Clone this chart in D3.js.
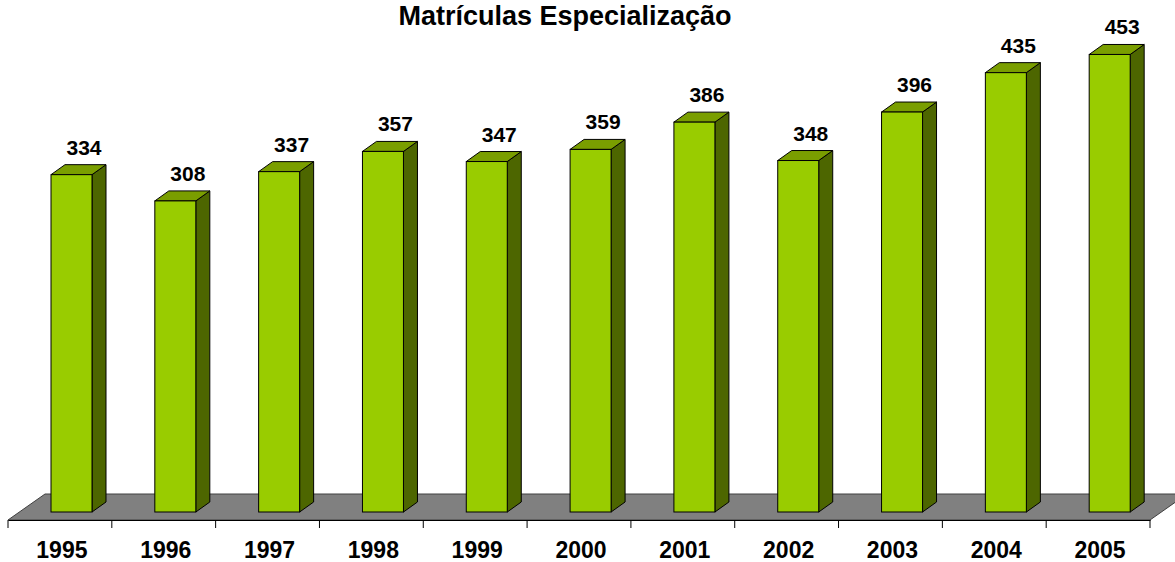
<!DOCTYPE html>
<html>
<head>
<meta charset="utf-8">
<script src="https://cdn.jsdelivr.net/npm/d3@7"></script>
<style>
  body { margin: 0; background: #fff; }
  svg { display: block; font-family: "Liberation Sans", Arial, sans-serif; font-weight: bold; }
</style>
</head>
<body>
<svg id="chart" width="1175" height="562"></svg>
<script>
const title = "Matrículas Especialização";
const years = ["1995", "1996", "1997", "1998", "1999", "2000", "2001", "2002", "2003", "2004", "2005"];
const values = [334, 308, 337, 357, 347, 359, 386, 348, 396, 435, 453];

const svg = d3.select("#chart");

// floor / bar geometry (pseudo 3D)
const floorFront = 520, floorDx = 37, floorDy = -26;
const barBase = 512, barDx = 14, barDy = -10, barOffset = 43, barWidth = 41;

const x = d3.scaleBand().domain(years).range([8, 1150]).padding(0);
const y = d3.scaleLinear().domain([0, 500]).range([barBase, 7]);

// floor
const [x0, x1] = x.range();
svg.append("path")
  .attr("d", `M${x0},${floorFront} L${x1},${floorFront} L${x1 + floorDx},${floorFront + floorDy} L${x0 + floorDx},${floorFront + floorDy} Z`)
  .attr("fill", "#808080")
  .attr("stroke", "#404040")
  .attr("stroke-width", 1);

// axis line + ticks
const axis = svg.append("g").attr("transform", `translate(0,${floorFront})`)
  .call(d3.axisBottom(x).tickSize(0).tickFormat(""));
axis.select(".domain").attr("stroke", "#000");
const tickXs = years.map(d => x(d)).concat([x1]);
svg.selectAll("line.tick")
  .data(tickXs)
  .join("line")
  .attr("class", "tick")
  .attr("x1", d => d).attr("x2", d => d)
  .attr("y1", floorFront).attr("y2", floorFront + 8)
  .attr("stroke", "#000");

// year labels
svg.selectAll("text.year")
  .data(years)
  .join("text")
  .attr("class", "year")
  .attr("x", d => x(d) + x.bandwidth() / 2 + 2)
  .attr("y", 558)
  .attr("text-anchor", "middle")
  .attr("font-size", 23)
  .text(d => d);

// bars
const bars = svg.selectAll("g.bar")
  .data(years.map((yr, i) => ({ yr, v: values[i] })))
  .join("g")
  .attr("class", "bar");

bars.each(function (d) {
  const g = d3.select(this);
  const l = x(d.yr) + barOffset, r = l + barWidth;
  const t = y(d.v), b = y(0);
  g.append("path") // side
    .attr("d", `M${r},${b} L${r + barDx},${b + barDy} L${r + barDx},${t + barDy} L${r},${t} Z`)
    .attr("fill", "#4D6600").attr("stroke", "#000").attr("stroke-width", 1).attr("stroke-linejoin", "round");
  g.append("path") // top
    .attr("d", `M${l},${t} L${r},${t} L${r + barDx},${t + barDy} L${l + barDx},${t + barDy} Z`)
    .attr("fill", "#7A9E00").attr("stroke", "#000").attr("stroke-width", 1).attr("stroke-linejoin", "round");
  g.append("rect") // front
    .attr("x", l).attr("y", t).attr("width", barWidth).attr("height", b - t)
    .attr("fill", "#99CC00").attr("stroke", "#000").attr("stroke-width", 1);
  g.append("text")
    .attr("x", l + 33)
    .attr("y", t - 20)
    .attr("text-anchor", "middle")
    .attr("font-size", 21)
    .text(d.v);
});

// title
svg.append("text")
  .attr("x", 565)
  .attr("y", 25)
  .attr("text-anchor", "middle")
  .attr("font-size", 27)
  .text(title);
</script>
</body>
</html>
